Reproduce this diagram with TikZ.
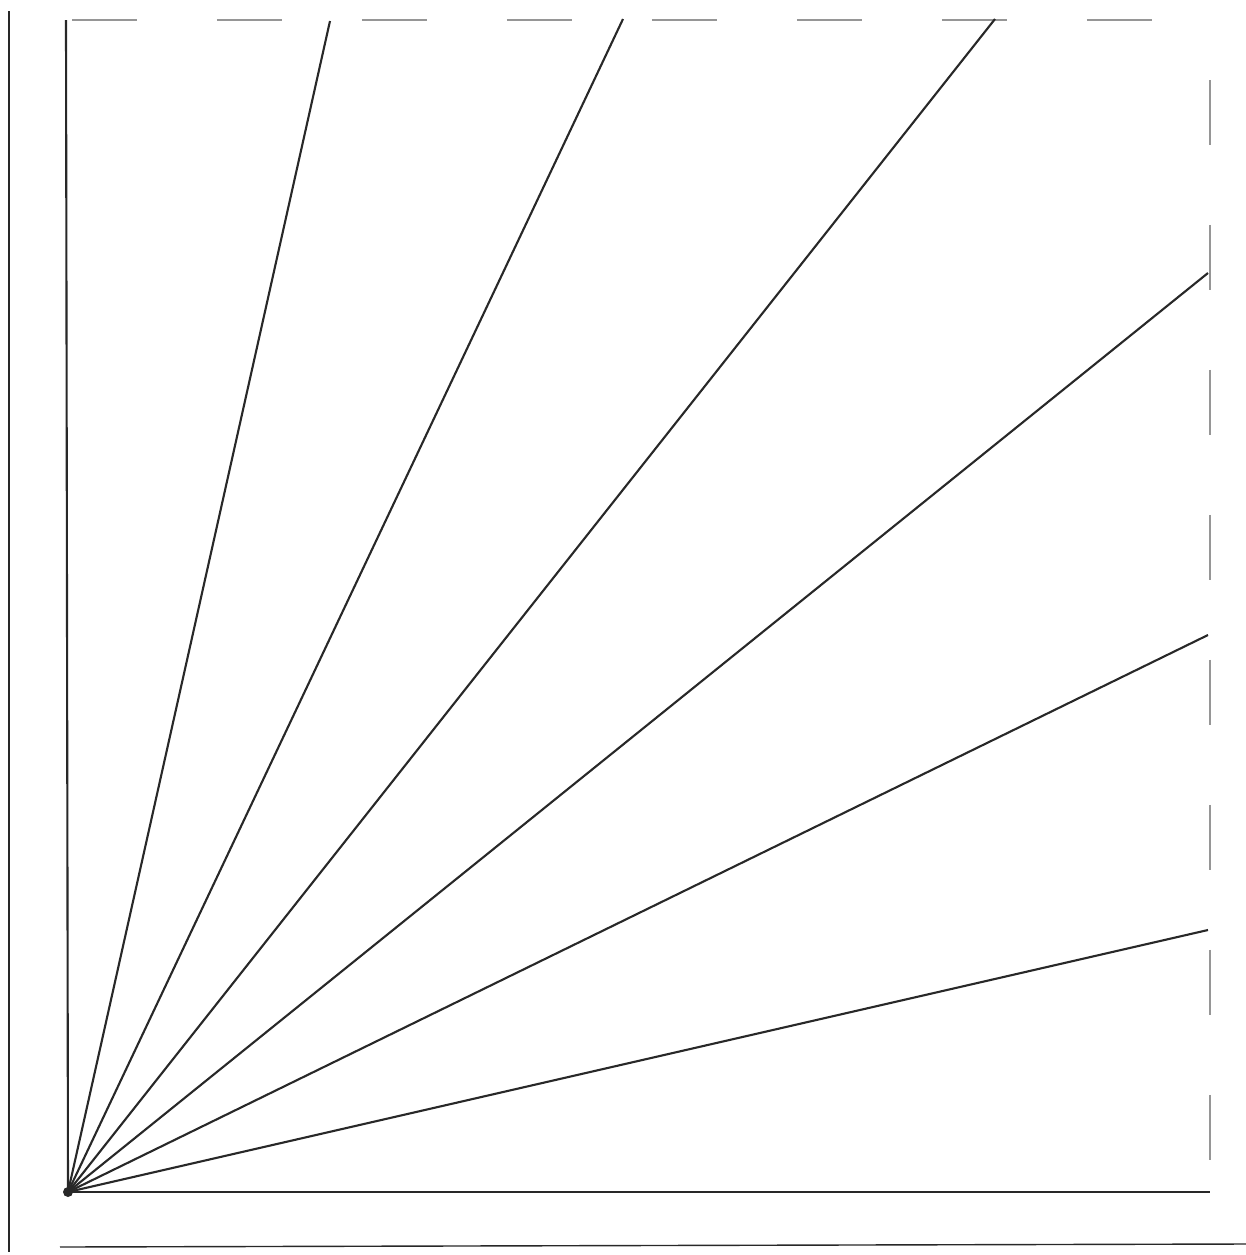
\documentclass[tikz,border=0pt]{standalone}
\usepackage{xcolor}
\usepackage{tikz}
\definecolor{ink}{RGB}{40,40,40}
\definecolor{faint}{RGB}{150,150,150}

\begin{document}
\begin{tikzpicture}[x=0.02cm,y=-0.02cm,
  ray/.style={ink,line width=1.2pt},
  rim/.style={faint,line width=0.7pt,dash pattern=on 1.3cm off 1.6cm},
  frame/.style={ink,line width=0.8pt}]
  % pixel grid of the scan, y running down
  \useasboundingbox (0,0) rectangle (1246,1255);
  \coordinate (O) at (68,1192);
  % corners of the dashed square
  \coordinate (tl) at (72,20);
  \coordinate (tr) at (1210,20);
  \coordinate (rt) at (1210,80);
  \coordinate (rb) at (1210,1165);
  % outer axes
  \coordinate (fa) at (9,11);
  \coordinate (fb) at (9,1252);
  \coordinate (fc) at (60,1247);
  \coordinate (fd) at (1246,1244);
  \draw[frame] (fa) -- (fb);
  \draw[frame] (fc) -- (fd);
  % dashed edges of the square
  \draw[rim] (tl) -- (tr);
  \draw[rim] (rt) -- (rb);
  % fan of rays, steps of 90/7 degrees
  \foreach \n/\x/\y in {r0/1210/1192,r1/1208/930,r2/1208/635,r3/1208/273,r4/995/19,r5/623/19,r6/330/21,r7/66/20} {
    \coordinate (\n) at (\x,\y);
    \draw[ray] (O) -- (\n);
  }
  \fill[ink] (O) circle (5);
\end{tikzpicture}
\end{document}
